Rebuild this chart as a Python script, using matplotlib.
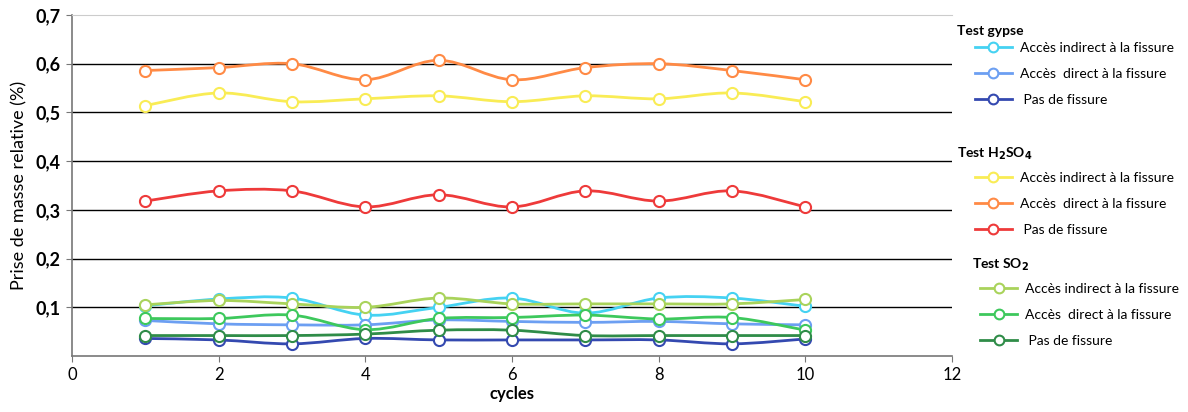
import matplotlib
matplotlib.use("Agg")
import matplotlib.pyplot as plt
from matplotlib.path import Path
from matplotlib.patches import PathPatch
from matplotlib.lines import Line2D

plt.rcParams['font.family'] = ['Lato', 'DejaVu Sans']

cycles = [1, 2, 3, 4, 5, 6, 7, 8, 9, 10]

# Test gypse
gypse_indirect = [0.103, 0.117, 0.119, 0.084, 0.100, 0.119, 0.088, 0.119, 0.119, 0.102]
gypse_direct = [0.073, 0.066, 0.064, 0.064, 0.074, 0.071, 0.069, 0.071, 0.066, 0.064]
gypse_pas = [0.036, 0.033, 0.025, 0.036, 0.033, 0.033, 0.033, 0.033, 0.025, 0.035]

# Test H2SO4
h2so4_indirect = [0.514, 0.540, 0.522, 0.528, 0.534, 0.522, 0.534, 0.528, 0.540, 0.522]
h2so4_direct = [0.586, 0.592, 0.600, 0.567, 0.607, 0.567, 0.592, 0.600, 0.586, 0.567]
h2so4_pas = [0.318, 0.339, 0.339, 0.306, 0.331, 0.306, 0.339, 0.318, 0.339, 0.306]

# Test SO2
so2_indirect = [0.105, 0.114, 0.107, 0.100, 0.119, 0.107, 0.107, 0.107, 0.107, 0.116]
so2_direct = [0.077, 0.077, 0.084, 0.054, 0.077, 0.079, 0.084, 0.076, 0.079, 0.053]
so2_pas = [0.042, 0.042, 0.042, 0.045, 0.053, 0.053, 0.042, 0.042, 0.042, 0.042]

labels = ['Accès indirect à la fissure', 'Accès  direct à la fissure', ' Pas de fissure']

groups = [
    ('Test gypse', [gypse_indirect, gypse_direct, gypse_pas],
     ['#45d2f2', '#6c9ff2', '#3449b0']),
    (r'Test H$_\mathbf{2}$SO$_\mathbf{4}$', [h2so4_indirect, h2so4_direct, h2so4_pas],
     ['#f9ec55', '#ff8a45', '#ee3a3a']),
    (r'Test SO$_\mathbf{2}$', [so2_indirect, so2_direct, so2_pas],
     ['#a9d35b', '#3dc85c', '#2f8c48']),
]


def smooth_path(xs, ys, t=0.5):
    # catmull-rom style bezier through the data points
    verts = [(xs[0], ys[0])]
    codes = [Path.MOVETO]
    n = len(xs)
    for i in range(n - 1):
        x0, y0 = (xs[i - 1], ys[i - 1]) if i > 0 else (xs[i], ys[i])
        x1, y1 = xs[i], ys[i]
        x2, y2 = xs[i + 1], ys[i + 1]
        x3, y3 = (xs[i + 2], ys[i + 2]) if i + 2 < n else (x2, y2)
        c1 = (x1 + (x2 - x0) * t / 3, y1 + (y2 - y0) * t / 3)
        c2 = (x2 - (x3 - x1) * t / 3, y2 - (y3 - y1) * t / 3)
        verts += [c1, c2, (x2, y2)]
        codes += [Path.CURVE4] * 3
    return Path(verts, codes)


fig = plt.figure(figsize=(11.88, 4.12), dpi=100)
ax = fig.add_axes([0.0606, 0.1359, 0.7407, 0.8277])

for title, series, colors in groups:
    for vals, col in zip(series, colors):
        ax.add_patch(PathPatch(smooth_path(cycles, vals), fill=False,
                               edgecolor=col, lw=2, zorder=3))
        ax.plot(cycles, vals, linestyle='none', marker='o', markersize=8,
                markerfacecolor='white', markeredgecolor=col,
                markeredgewidth=1.5, zorder=4)

ax.set_xlim(0, 12)
ax.set_ylim(0, 0.7)
ax.set_xticks(range(0, 13, 2))
ax.set_yticks([0.1, 0.2, 0.3, 0.4, 0.5, 0.6, 0.7])
ax.set_yticklabels(['0,1', '0,2', '0,3', '0,4', '0,5', '0,6', '0,7'],
                   fontsize=13, fontweight='bold')
ax.set_xticklabels([str(v) for v in range(0, 13, 2)], fontsize=12)
for yv in [0.1, 0.2, 0.3, 0.4, 0.5, 0.6]:
    ax.axhline(yv, color='black', lw=1, zorder=1)
ax.spines['right'].set_visible(False)
ax.spines['top'].set_color('#cccccc')
ax.spines['left'].set_color('#777777')
ax.spines['bottom'].set_color('#777777')
ax.spines['left'].set_linewidth(1.2)
ax.spines['bottom'].set_linewidth(1.2)
ax.tick_params(axis='both', length=4, color='#777777', pad=4)
ax.set_xlabel('cycles', fontsize=12, fontweight='bold', labelpad=2)
ax.set_ylabel('Prise de masse relative (%)', fontsize=13, labelpad=6)

# legends, one per test, built from the series colours
title_pos = [(0.8056, 0.925), (0.8056, 0.627), (0.818, 0.357)]
legend_pos = [(0.8207, 0.898), (0.8207, 0.583), (0.825, 0.313)]
for (title, series, colors), (tx, ty), (lx, ly) in zip(groups, title_pos, legend_pos):
    fig.text(tx, ty, title, fontsize=10, fontweight='bold', va='center')
    handles = [Line2D([], [], color=c, lw=2, marker='o', markersize=7,
                      markerfacecolor='white', markeredgecolor=c,
                      markeredgewidth=1.5) for c in colors]
    fig.legend(handles, labels, loc='upper left', bbox_to_anchor=(lx, ly),
               frameon=False, fontsize=10, handlelength=2.66,
               handletextpad=0.55, labelspacing=1.0, borderpad=0,
               borderaxespad=0)

fig.savefig('out.png', dpi=100)
